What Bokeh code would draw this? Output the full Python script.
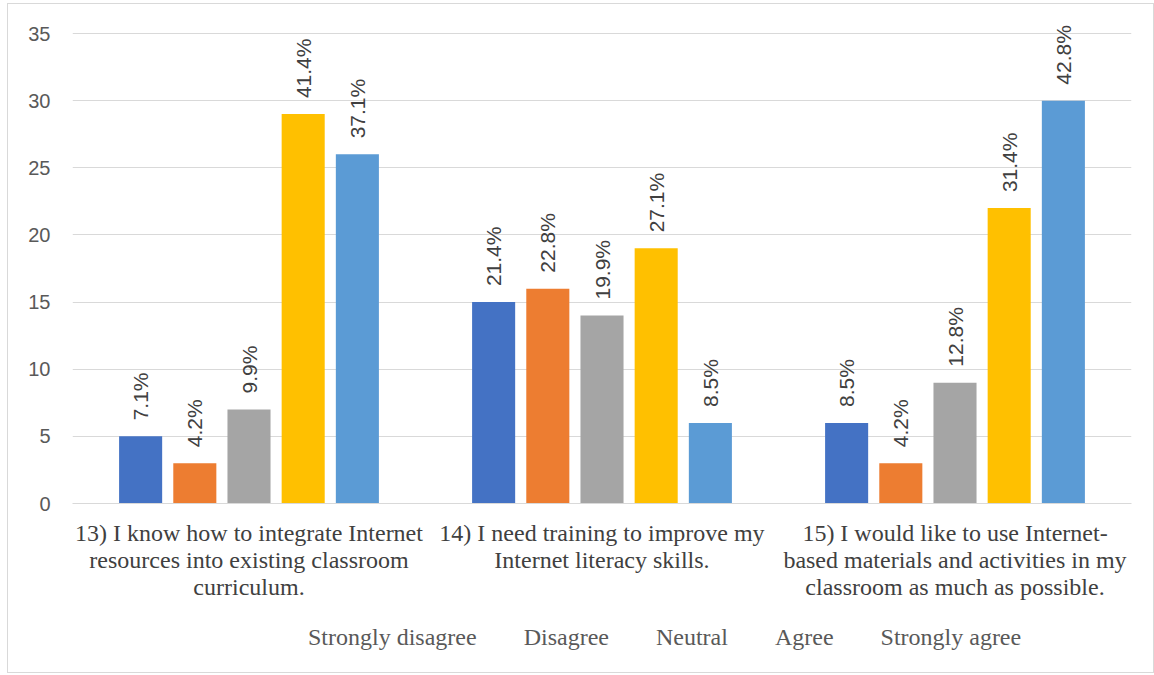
from bokeh.plotting import figure
from bokeh.models import ColumnDataSource, FactorRange, Legend, LegendItem
from bokeh.layouts import column
from bokeh.transform import dodge
from bokeh.embed import file_html
from bokeh.resources import INLINE
from bokeh.core.properties import value
import math

categories = [
    "13) I know how to integrate Internet\nresources into existing classroom\ncurriculum.",
    "14) I need training to improve my\nInternet literacy skills.",
    "15) I would like to use Internet-\nbased materials and activities in my\nclassroom as much as possible.",
]
series_names = ["Strongly disagree", "Disagree", "Neutral", "Agree", "Strongly agree"]
series_colors = ["#4472C4", "#ED7D31", "#A5A5A5", "#FFC000", "#5B9BD5"]
strongly_disagree = [5, 15, 6]
disagree = [3, 16, 3]
neutral = [7, 14, 9]
agree = [29, 19, 22]
strongly_agree = [26, 6, 30]
pct_strongly_disagree = ["7.1%", "21.4%", "8.5%"]
pct_disagree = ["4.2%", "22.8%", "4.2%"]
pct_neutral = ["9.9%", "19.9%", "12.8%"]
pct_agree = ["41.4%", "27.1%", "31.4%"]
pct_strongly_agree = ["37.1%", "8.5%", "42.8%"]
y_ticks = [0, 5, 10, 15, 20, 25, 30, 35]

values = [strongly_disagree, disagree, neutral, agree, strongly_agree]
pcts = [pct_strongly_disagree, pct_disagree, pct_neutral, pct_agree, pct_strongly_agree]
offsets = [-0.307, -0.1535, 0.0, 0.1535, 0.307]
bar_w = 0.122

p = figure(
    x_range=FactorRange(*categories, range_padding=0),
    y_range=(0, 35.82),
    frame_width=1059, frame_height=481,
    output_backend="svg", toolbar_location=None,
    min_border_left=64, min_border_right=22, min_border_top=18, min_border_bottom=109,
)
p.outline_line_color = None
p.background_fill_color = "white"
p.border_fill_color = "white"

for name, col, vals, pc, off in zip(series_names, series_colors, values, pcts, offsets):
    src = ColumnDataSource(dict(cat=categories, v=vals, lab=pc))
    p.vbar(x=dodge("cat", off, range=p.x_range), top="v", width=bar_w, source=src,
           fill_color=col, line_color=None)
    p.text(x=dodge("cat", off, range=p.x_range), y="v", text="lab", source=src,
           angle=math.pi / 2, text_align="left", text_baseline="middle",
           y_offset=-16, text_font=value("Liberation Sans"), text_font_size="21px",
           text_color="#404040")

p.yaxis.ticker = y_ticks
p.yaxis.axis_line_color = None
p.yaxis.major_tick_line_color = None
p.yaxis.minor_tick_line_color = None
p.yaxis.major_label_standoff = 16
p.yaxis.major_label_text_font = "Liberation Sans"
p.yaxis.major_label_text_font_size = "20px"
p.yaxis.major_label_text_color = "#595959"

p.xaxis.axis_line_color = "#D9D9D9"
p.xaxis.major_tick_line_color = None
p.xaxis.minor_tick_line_color = None
p.xaxis.major_label_standoff = 10
p.xaxis.major_label_text_font = "Liberation Serif"
p.xaxis.major_label_text_font_size = "24px"
p.xaxis.major_label_text_color = "#404040"
p.xaxis.major_label_text_line_height = 1.05

p.xgrid.grid_line_color = None
p.ygrid.grid_line_color = "#D9D9D9"
p.ygrid.grid_line_width = 1

# legend strip below the chart
lg = figure(width=1145, height=60, x_range=(0, 1), y_range=(0, 1),
            x_axis_type=None, y_axis_type=None, output_backend="svg",
            toolbar_location=None, min_border=0)
lg.outline_line_color = None
lg.xgrid.grid_line_color = None
lg.ygrid.grid_line_color = None
items = []
for name, col in zip(series_names, series_colors):
    r = lg.vbar(x=[], top=[], width=0.1, fill_color=col, line_color=None)
    items.append(LegendItem(label=name, renderers=[r]))
legend = Legend(items=items, orientation="horizontal", location=(219, 21),
                label_text_font="Liberation Serif", label_text_font_size="24px",
                label_text_color="#595959", glyph_width=11, glyph_height=11,
                label_standoff=6, spacing=30, border_line_color=None,
                background_fill_alpha=0, margin=0, padding=0)
lg.add_layout(legend, "center")

layout = column(p, lg, spacing=0, margin=(3, 0, 0, 7),
                styles={"border": "1px solid #D9D9D9"})

open("out.html", "w").write(file_html(layout, INLINE))
